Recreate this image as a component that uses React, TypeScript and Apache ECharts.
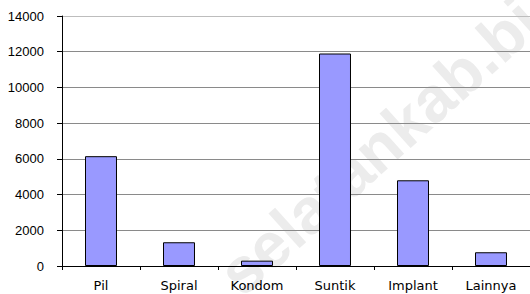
import React, { useEffect, useRef } from "react";
import * as echarts from "echarts";

const categories = ["Pil", "Spiral", "Kondom", "Suntik", "Implant", "Lainnya"];
const values = [6150, 1330, 300, 11900, 4800, 770];
const yTicks = [0, 2000, 4000, 6000, 8000, 10000, 12000, 14000];
const watermark = "selatankab.bi";

export default function App() {
  const ref = useRef<HTMLDivElement>(null);
  useEffect(() => {
    if (!ref.current) return;
    const chart = echarts.init(ref.current, null, { renderer: "svg" });
    const gridColors = yTicks.map((t, i) => (i === yTicks.length - 1 ? "#bdbdbd" : "#8a8a8a"));
    const angle = (42 * Math.PI) / 180;
    chart.setOption({
      animation: false,
      backgroundColor: "#ffffff",
      graphic: [
        {
          type: "text",
          x: 250,
          y: 306,
          rotation: angle,
          z: -10,
          silent: true,
          style: {
            text: watermark,
            font: "bold 64px 'Liberation Sans', Arial, sans-serif",
            fill: "#ececec",
            verticalAlign: "bottom",
          },
        },
      ],
      grid: { left: 62, top: 16, height: 250, width: 482, containLabel: false },
      xAxis: {
        type: "category",
        data: categories,
        boundaryGap: true,
        axisLine: { show: true, lineStyle: { color: "#000", width: 1 } },
        axisTick: { show: true, length: 4, lineStyle: { color: "#000" } },
        axisLabel: {
          margin: 13,
          color: "#000",
          fontSize: 13,
          fontFamily: "'DejaVu Sans', sans-serif",
          interval: 0,
        },
        splitLine: { show: false },
      },
      yAxis: {
        type: "value",
        min: 0,
        max: 14000,
        interval: 2000,
        axisLine: { show: true, lineStyle: { color: "#000", width: 1 } },
        axisTick: { show: true, length: 5, lineStyle: { color: "#000" } },
        axisLabel: {
          margin: 18,
          color: "#000",
          fontSize: 13,
          fontFamily: "'Liberation Sans', Arial, sans-serif",
          formatter: (v: number) => String(v),
        },
        splitLine: { show: true, lineStyle: { color: gridColors, width: 1 } },
      },
      series: [
        {
          type: "bar",
          data: values,
          barWidth: "41%",
          z: 2,
          itemStyle: { color: "#9999ff", borderColor: "#000", borderWidth: 1 },
        },
      ],
    });
    return () => chart.dispose();
  }, []);
  return (
    <div
      ref={ref}
      style={{ position: "absolute", left: 0, top: 0, width: 530, height: 294 }}
    />
  );
}
